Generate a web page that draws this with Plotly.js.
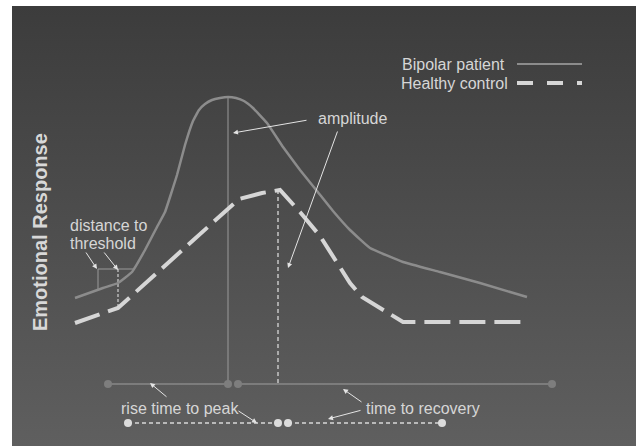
<!DOCTYPE html>
<html>
<head>
<meta charset="utf-8">
<script src="https://cdn.plot.ly/plotly-3.0.1.min.js"></script>
<style>html,body{margin:0;padding:0;background:#fff;}#chart{width:636px;height:446px;}</style>
</head>
<body>
<div id="chart"></div>
<script>
// Schematic units: x = time, y = emotional response
const bipolarX = [75,103,118,132,145,157,165,177,185,193,199,205,212,220,228,236,244,253,267,283,300,317,333,350,370,403,440,480,527];
const bipolarY = [148,158,163,174,196,219,234,271,301,325,336,342,346,348,349,348,345,338,323,299,276,255,235,216,198,184,174,163,149];
const controlX = [75,118,239,262,280,300,320,337,350,362,380,403,527];
const controlY = [123,138,247,253,256,234,210,184,163,149,138,124,124];
// time spans: [start, peak] and [after peak, recovery]
const bipolarRise = [108,228];
const bipolarRecovery = [238,552];
const controlRise = [128,278];
const controlRecovery = [288,442];
const bipolarTimelineLevel = 62;
const controlTimelineLevel = 23;
// threshold
const thresholdLevel = 177;
const thresholdX = [98,134];
const bipolarAtThreshold = 156;
const controlAtThreshold = 138;
const seriesNames = ["Bipolar patient","Healthy control"];

const txt = '#d6d6d6';
const solidCol = '#8c8c8c';
const dashCol = '#d6d6d6';
const font = {family:'Liberation Sans, Arial, sans-serif', size:16, color:txt};

const bMax = Math.max(...bipolarY);
const bPeakX = bipolarX[bipolarY.indexOf(bMax)];
const cMax = Math.max(...controlY);
const cPeakX = controlRise[1];

const traces = [
  {x:[12,636,636,12,12], y:[0,0,440,440,0], mode:'lines', line:{width:0}, fill:'toself',
   fillgradient:{type:'vertical', start:0, stop:440, colorscale:[[0,'#5f5f5f'],[1,'#3c3c3c']]}, hoverinfo:'skip'},
  // threshold
  {x:thresholdX, y:[thresholdLevel,thresholdLevel], mode:'lines', line:{color:'#9a9a9a', width:1}},
  {x:[thresholdX[0],thresholdX[0]], y:[thresholdLevel,bipolarAtThreshold], mode:'lines', line:{color:'#9a9a9a', width:1}},
  {x:[118,118], y:[thresholdLevel,controlAtThreshold], mode:'lines', line:{color:'#d0d0d0', width:1.2, dash:'3px,2px'}},
  // peak verticals
  {x:[bPeakX,bPeakX], y:[bMax,bipolarTimelineLevel], mode:'lines', line:{color:'#9a9a9a', width:1}},
  {x:[cPeakX,cPeakX], y:[cMax,bipolarTimelineLevel], mode:'lines', line:{color:'#d8d8d8', width:1.3, dash:'4px,3px'}},
  // curves
  {name:seriesNames[0], x:bipolarX, y:bipolarY, mode:'lines', line:{color:solidCol, width:2.5, shape:'spline', smoothing:0.3}},
  {name:seriesNames[1], x:controlX, y:controlY, mode:'lines', line:{color:dashCol, width:4, dash:'26px,9px'}},
  // timelines
  {x:bipolarRise, y:[bipolarTimelineLevel,bipolarTimelineLevel], mode:'lines+markers', line:{color:'#888', width:1.5}, marker:{color:'#7e7e7e', size:8}},
  {x:bipolarRecovery, y:[bipolarTimelineLevel,bipolarTimelineLevel], mode:'lines+markers', line:{color:'#888', width:1.5}, marker:{color:'#7e7e7e', size:8}},
  {x:controlRise, y:[controlTimelineLevel,controlTimelineLevel], mode:'lines+markers', line:{color:'#d8d8d8', width:1.5, dash:'4px,3px'}, marker:{color:'#dcdcdc', size:8}},
  {x:controlRecovery, y:[controlTimelineLevel,controlTimelineLevel], mode:'lines+markers', line:{color:'#d8d8d8', width:1.5, dash:'4px,3px'}, marker:{color:'#dcdcdc', size:8}}
];

function arrow(ax, ay, x, y){
  return {x:x, y:y, ax:ax, ay:ay, xref:'x', yref:'y', axref:'x', ayref:'y', text:'', showarrow:true,
    arrowhead:2, arrowsize:1, arrowwidth:1, arrowcolor:'#e4e4e4', standoff:0};
}
function label(t, x, y, anchor){
  return {x:x, y:y, xref:'x', yref:'y', text:t, showarrow:false, xanchor:anchor||'left', yanchor:'middle', font:font, align:'left'};
}

const annotations = [
  label('distance to', 68, 221),
  label('threshold', 68, 203),
  arrow(85,195,97,177),
  arrow(103,195,118,176),
  label('amplitude', 316, 328),
  arrow(308,326,233,313),
  arrow(338,316,288,178),
  label('rise time to peak', 119, 38),
  arrow(168,48,150,63),
  arrow(237,36,257,23),
  label('time to recovery', 364, 38),
  arrow(363,43,343,57),
  arrow(362,36,328,27),
  label(seriesNames[0], 507, 382, 'right'),
  label(seriesNames[1], 510, 363, 'right'),
  {x:40, y:214, xref:'x', yref:'y', text:'<b>Emotional Response</b>', textangle:-90, showarrow:false,
   font:{family:'Liberation Sans, Arial, sans-serif', size:20, color:'#d8d8d8'}}
];

const shapes = [
  {type:'line', xref:'x', yref:'y', x0:517, x1:582, y0:382, y1:382, line:{color:solidCol, width:2}},
  {type:'line', xref:'x', yref:'y', x0:517, x1:582, y0:363, y1:363, line:{color:dashCol, width:4, dash:'16px,14px'}}
];

const layout = {
  width:636, height:446,
  margin:{l:12, r:0, t:6, b:0},
  paper_bgcolor:'#ffffff', plot_bgcolor:'#4a4a4a',
  showlegend:false, hovermode:false,
  xaxis:{range:[12,636], visible:false, fixedrange:true},
  yaxis:{range:[0,440], visible:false, fixedrange:true},
  annotations:annotations, shapes:shapes
};

Plotly.newPlot('chart', traces, layout, {displayModeBar:false, staticPlot:true});
</script>
</body>
</html>
